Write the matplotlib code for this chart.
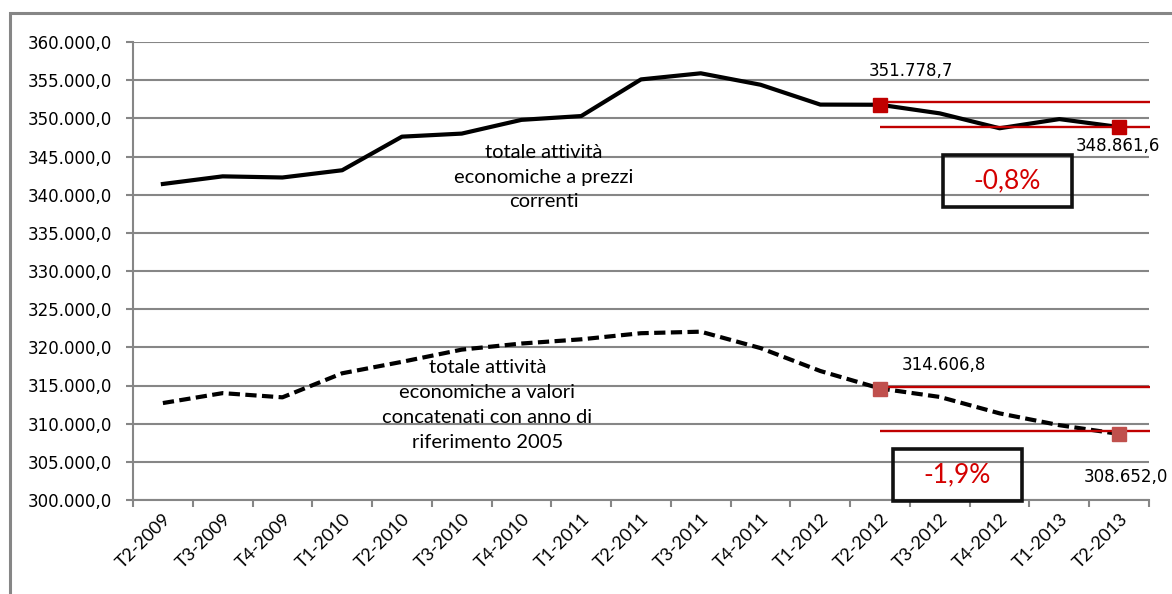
import matplotlib.pyplot as plt
from matplotlib.patches import Rectangle
from matplotlib.ticker import FixedLocator, FuncFormatter

quarters = ['T2-2009', 'T3-2009', 'T4-2009', 'T1-2010', 'T2-2010', 'T3-2010',
            'T4-2010', 'T1-2011', 'T2-2011', 'T3-2011', 'T4-2011', 'T1-2012',
            'T2-2012', 'T3-2012', 'T4-2012', 'T1-2013', 'T2-2013']

correnti = [341400, 342400, 342250, 343200, 347600, 348000, 349800, 350300,
            355100, 355900, 354400, 351800, 351778.7, 350650, 348700, 349900,
            348861.6]
concatenati = [312700, 314000, 313450, 316600, 318100, 319700, 320500, 321050,
               321850, 322050, 319900, 316900, 314606.8, 313500, 311350, 309800,
               308652.0]

# positions of the two highlighted quarters
i_start, i_end = 12, 16
var_correnti = '-0,8%'
var_concatenati = '-1,9%'
# red guide levels drawn across the last quarters
guide_correnti = [352150, 348900]
guide_concatenati = [314850, 309050]

GRID = '#868686'
RED = '#C00000'
RED2 = '#C0504D'


def fmt_it(v, pos=None):
    s = f'{v:,.1f}'
    return s.replace(',', '_').replace('.', ',').replace('_', '.')


fig = plt.figure(figsize=(11.72, 5.94), dpi=100)
ax = fig.add_axes([133 / 1172, 1 - 500 / 594, 1016 / 1172, 458 / 594])

# outer chart frame
fig.add_artist(Rectangle((10 / 1172, -0.1), 1.2, 581 / 594 + 0.1,
                         transform=fig.transFigure, fill=False,
                         edgecolor=GRID, lw=2.2))

x = list(range(len(quarters)))
ax.plot(x, correnti, color='black', lw=3, solid_joinstyle='round', zorder=3)
ax.plot(x, concatenati, color='black', lw=3, linestyle=(0, (2.7, 1.3)),
        zorder=3)

for lvl in guide_correnti:
    ax.hlines(lvl, i_start, 16.52, color=RED, lw=1.7, clip_on=False, zorder=4)
for lvl in guide_concatenati:
    ax.hlines(lvl, i_start, 16.52, color=RED, lw=1.7, clip_on=False, zorder=4)

ax.plot([i_start, i_end], [correnti[i_start], correnti[i_end]], 's',
        color=RED, ms=10, zorder=5)
ax.plot([i_start, i_end], [concatenati[i_start], concatenati[i_end]], 's',
        color=RED2, ms=10, zorder=5)

lab = dict(fontsize=12, ha='center', va='center', textcoords='offset points')
ax.annotate(fmt_it(correnti[i_start]), (i_start, correnti[i_start]),
            xytext=(22, 24), **lab)
ax.annotate(fmt_it(correnti[i_end]), (i_end, correnti[i_end]),
            xytext=(-1, -14), annotation_clip=False, **lab)
ax.annotate(fmt_it(concatenati[i_start]), (i_start, concatenati[i_start]),
            xytext=(46, 17), **lab)
ax.annotate(fmt_it(concatenati[i_end]), (i_end, concatenati[i_end]),
            xytext=(5, -31), annotation_clip=False, **lab)

# boxes with the percentage change
for (x0, x1, y0, y1), txt in [((13.05, 15.21, 338380, 345190), var_correnti),
                              ((12.21, 14.37, 299870, 306680), var_concatenati)]:
    ax.add_patch(Rectangle((x0, y0), x1 - x0, y1 - y0, fill=False,
                           edgecolor='#111111', lw=2.6, clip_on=False, zorder=6))
    ax.text((x0 + x1) / 2, (y0 + y1) / 2, txt, color='#D40000', fontsize=19,
            family='Lato', ha='center', va='center', zorder=6)

ax.text(6.37, 342300, 'totale attività\neconomiche a prezzi\ncorrenti',
        family='Lato', fontsize=14.5, ha='center', va='center', linespacing=1.52)
ax.text(5.43, 312450,
        'totale attività\neconomiche a valori\nconcatenati con anno di\nriferimento 2005',
        family='Lato', fontsize=14.5, ha='center', va='center', linespacing=1.55)

ax.set_xlim(-0.5, len(quarters) - 0.5)
ax.set_ylim(300000, 360000)
ax.yaxis.set_major_locator(FixedLocator(range(300000, 360001, 5000)))
ax.yaxis.set_major_formatter(FuncFormatter(fmt_it))
ax.grid(axis='y', color=GRID, lw=1.5)
ax.set_axisbelow(True)

ax.set_xticks(x)
ax.set_xticklabels(quarters, rotation=45, ha='right', va='top',
                   rotation_mode='anchor', family='Lato', fontsize=13)
ax.set_xticks([i - 0.5 for i in range(len(quarters) + 1)], minor=True)
ax.tick_params(axis='x', which='major', length=0, pad=8)
ax.tick_params(axis='x', which='minor', length=5, width=1.5, color=GRID)
ax.tick_params(axis='y', length=5, width=1.5, color=GRID, pad=10,
               labelsize=12)

for side in ['top', 'right']:
    ax.spines[side].set_visible(False)
for side in ['left', 'bottom']:
    ax.spines[side].set_color(GRID)
    ax.spines[side].set_linewidth(1.5)

fig.savefig('out.png', dpi=100)
